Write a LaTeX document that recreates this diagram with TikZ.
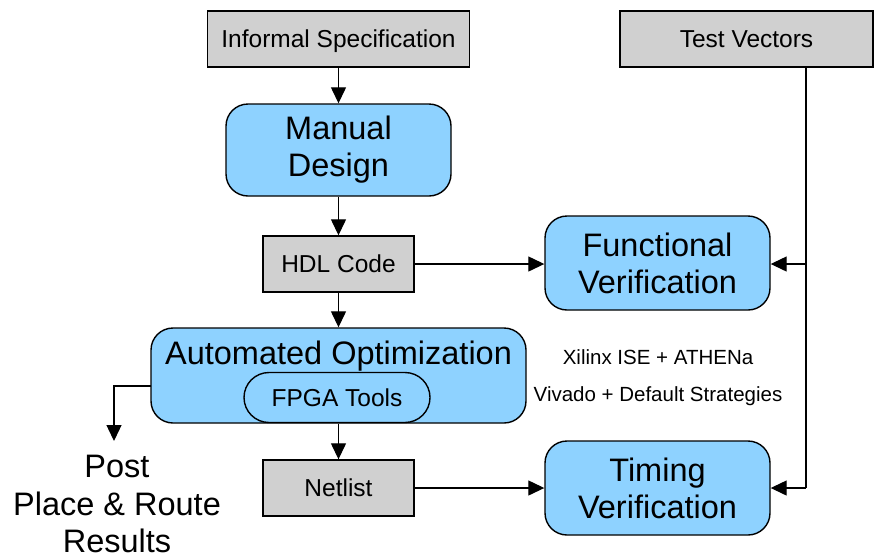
\documentclass[tikz,border=0pt]{standalone}
\usepackage{fontspec}
\setmainfont{Liberation Sans}
\usetikzlibrary{arrows.meta}
\definecolor{boxgray}{RGB}{208,208,208}
\definecolor{boxblue}{RGB}{142,210,255}
\begin{document}
\begin{tikzpicture}[x=1pt,y=-1pt,
  graybox/.style={draw, line width=1.4pt, fill=boxgray, inner sep=0pt,
    text height=17.5pt, text depth=0pt, font=\fontsize{24.5}{28}\selectfont},
  bluebox/.style={draw, line width=1.4pt, fill=boxblue, rounded corners=22pt, inner sep=0pt,
    align=center, font=\fontsize{32.5}{37}\selectfont},
  conn/.style={line width=1.3pt},
  arr/.style={line width=1.3pt, -{Triangle[length=16pt,width=15pt]}},
  lbl/.style={font=\fontsize{20.5}{24}\selectfont, inner sep=0pt}]
\useasboundingbox (0,0) rectangle (875,558);
% nodes
\node[graybox, minimum width=262pt, minimum height=56pt] (inf) at (338.5,39) {Informal Specification};
\node[graybox, minimum width=253pt, minimum height=56pt] (tv) at (746.5,39) {Test Vectors};
\node[bluebox, minimum width=225pt, minimum height=92pt] (md) at (338.5,150) {Manual\\Design};
\node[graybox, minimum width=151pt, minimum height=56pt] (hdl) at (338.5,264) {HDL Code};
\node[bluebox, minimum width=225pt, minimum height=94pt] (fv) at (657.5,263) {Functional\\Verification};
\node[bluebox, minimum width=375pt, minimum height=95pt] (ao) at (338.5,375.5) {};
\node[font=\fontsize{32.5}{37}\selectfont, inner sep=0pt] (aot) at (338.5,356) {Automated Optimization};
\node[draw, line width=1.4pt, fill=boxblue, rounded corners=25pt, inner sep=0pt,
  text height=17.5pt, text depth=0pt,
  minimum width=186pt, minimum height=50pt, font=\fontsize{24.5}{28}\selectfont] (fpga) at (337,397.5) {FPGA Tools};
\node[graybox, minimum width=151pt, minimum height=56pt] (nl) at (338.5,488) {Netlist};
\node[bluebox, minimum width=225pt, minimum height=94pt] (tmv) at (657.5,488) {Timing\\Verification};
\node[lbl] (xil) at (658,357) {Xilinx ISE + ATHENa};
\node[lbl] (viv) at (658,396) {Vivado + Default Strategies};
\node[align=center, inner sep=0pt, font=\fontsize{32.5}{37.5}\selectfont] (ppr) at (117,504) {Post\\Place \& Route\\Results};
% coordinates
\coordinate (tvd) at (806,67);
\coordinate (tvf) at (806,264);
\coordinate (tvt) at (806,488);
\coordinate (aol) at (151,386);
\coordinate (lc) at (114,386);
\coordinate (le) at (114,441);
% connectors
\draw[arr] (inf.south) -- (md.north);
\draw[arr] (md.south) -- (hdl.north);
\draw[arr] (hdl.south) -- (ao.north);
\draw[arr] (ao.south) -- (nl.north);
\draw[arr] (hdl.east) -- (hdl.east -| fv.west);
\draw[arr] (nl.east) -- (nl.east -| tmv.west);
\draw[conn] (tvd) -- (tvt);
\draw[arr] (tvf) -- (tvf -| fv.east);
\draw[arr] (tvt) -- (tvt -| tmv.east);
\draw[arr] (aol) -- (lc) -- (le);
\end{tikzpicture}
\end{document}
